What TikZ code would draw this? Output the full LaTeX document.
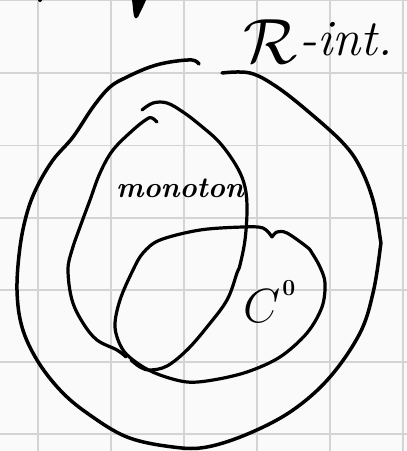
\RequirePackage{fix-cm}
\documentclass[tikz,border=0pt]{standalone}
\usepackage{amsmath}
\begin{document}
\begin{tikzpicture}[x=1pt,y=-1pt,
  ink/.style={line width=3.5pt,line cap=round,line join=round,black},
  gridline/.style={draw=black!17,line width=1.2pt},
  lbl/.style={inner sep=1pt,black}]
\fill[white!98!black] (0,0) rectangle (407,451);
\useasboundingbox (0,0) rectangle (407,451);
% grid
\foreach \gx in {38,111,184,257,330,403} \draw[gridline] (\gx,0) -- (\gx,451);
\foreach \gy in {0.5,73,145.5,218,290,362,434} \draw[gridline] (0,\gy) -- (407,\gy);
% fragments at top
\fill (132,0) .. controls (133,6) and (133,12) .. (134,16) .. controls (135,19) and (137,19) .. (138,17) .. controls (141,11) and (144,5) .. (146,0) -- cycle;
\fill (40,0) circle (2pt);
% outer region (R-int.)
\draw[ink] plot[smooth,tension=0.6] coordinates {(199,64) (192,60) (170,62) (150,67) (127,77) (110,87) (93,107) (73,137) (53,160) (37,187) (27,213) (20,247) (17,290) (22,327) (37,360) (60,390) (87,413) (127,437) (173,447) (207,447) (250,433) (293,410) (330,377) (360,333) (373,293) (380,250) (380,237) (373,200) (360,167) (343,143) (310,113) (277,87) (250,73) (222,73)};
% monotone region: right stroke
\draw[ink,line width=3.2pt] plot[smooth,tension=0.6] coordinates {(142,110) (153,103) (167,103) (183,112) (200,125) (220,143) (237,167) (245,187) (247,210) (245,240) (240,265) (237,273) (227,300) (207,327) (187,350) (167,366) (150,370) (140,367) (131,360)};
% monotone region: left stroke
\draw[ink,line width=3.2pt] plot[smooth,tension=0.6] coordinates {(157,122) (152,118) (147,119) (133,130) (113,150) (100,173) (90,200) (80,227) (72,250) (68,270) (72,300) (83,323) (97,340) (117,350) (126,357)};
% C0 region
\draw[ink,line width=3.2pt] plot[smooth,tension=0.55] coordinates {(272,237) (263,228) (243,227) (200,230) (160,240) (143,253) (133,270) (120,300) (115,327) (123,350) (140,365) (160,375) (187,382) (213,380) (247,372) (280,357) (307,333) (322,307) (325,283) (320,267) (312,253) (307,247) (287,233) (277,232) (272,237)};
% labels
\node[lbl,anchor=base west] (rint) at (242,63) {\fontsize{64}{70}\selectfont$\mathcal{R}$\hspace{2pt}\raisebox{8pt}{\fontsize{51}{51}\selectfont\itshape -int.}};
\node[lbl,anchor=base] (mono) at (180,197) {\fontsize{29}{30}\selectfont\bfseries\itshape monoton};
\node[lbl,anchor=base west] (czero) at (242,322) {\fontsize{48}{50}\selectfont$C$\hspace{2pt}\raisebox{27pt}{\fontsize{23}{23}\selectfont\bfseries 0}};
\end{tikzpicture}
\end{document}
